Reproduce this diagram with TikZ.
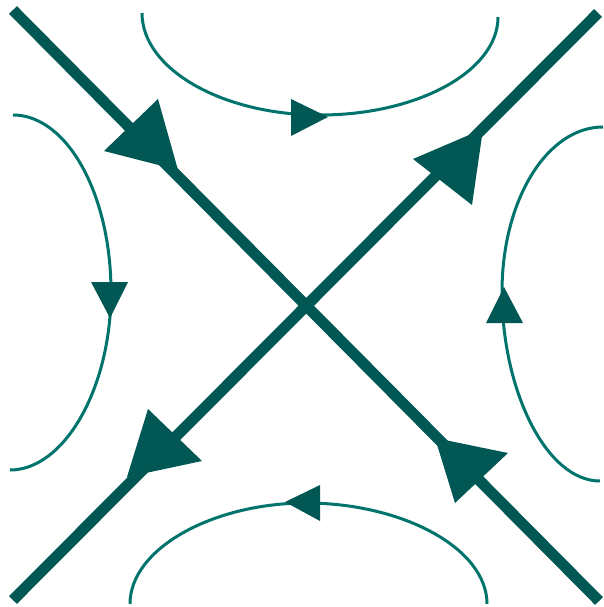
\documentclass[tikz,border=0pt]{standalone}
\definecolor{thickc}{RGB}{0,87,84}
\definecolor{thinc}{RGB}{0,116,108}
\tikzset{
  sep/.style={draw=thickc, line width=11pt},
  orbit/.style={draw=thinc, line width=3pt},
  bighead/.style={fill=thickc},
  smallhead/.style={fill=thickc}
}
\begin{document}
\begin{tikzpicture}[x=1pt,y=-1pt]
\useasboundingbox (0,0) rectangle (603,607);
% separatrices
\coordinate (a1) at (13,10);
\coordinate (a2) at (599,601);
\coordinate (b1) at (13,600);
\coordinate (b2) at (598,13);
\draw[sep] (a1) -- (a2);
\draw[sep] (b1) -- (b2);
% big arrowheads
\fill[bighead] (178,170) -- (158,99) -- (104,151) -- cycle;
\fill[bighead] (483,129) -- (413,159) -- (472,205) -- cycle;
\fill[bighead] (127,477) -- (148,409) -- (202,461) -- cycle;
\fill[bighead] (435,438) -- (508,453) -- (455,503) -- cycle;
% orbits
\draw[orbit] (142,13) .. controls (142,69) and (222,115) .. (320,115)
                     .. controls (418,115) and (498,71) .. (498,17);
\draw[orbit] (13,115) .. controls (67,115) and (111,194) .. (111,292)
                     .. controls (111,389) and (64,470) .. (10,470);
\draw[orbit] (603,127) .. controls (547,127) and (502,200) .. (502,292)
                      .. controls (502,390) and (546,481) .. (600,481);
\draw[orbit] (130,604) .. controls (130,548) and (214,503) .. (306,503)
                      .. controls (402,503) and (487,548) .. (487,604);
% small arrowheads
\fill[smallhead] (291,99) -- (291,136) -- (328,117) -- cycle;
\fill[smallhead] (91,282) -- (128,282) -- (110,318) -- cycle;
\fill[smallhead] (486,323) -- (523,323) -- (504,287) -- cycle;
\fill[smallhead] (320,485) -- (320,521) -- (285,502) -- cycle;
\end{tikzpicture}
\end{document}
